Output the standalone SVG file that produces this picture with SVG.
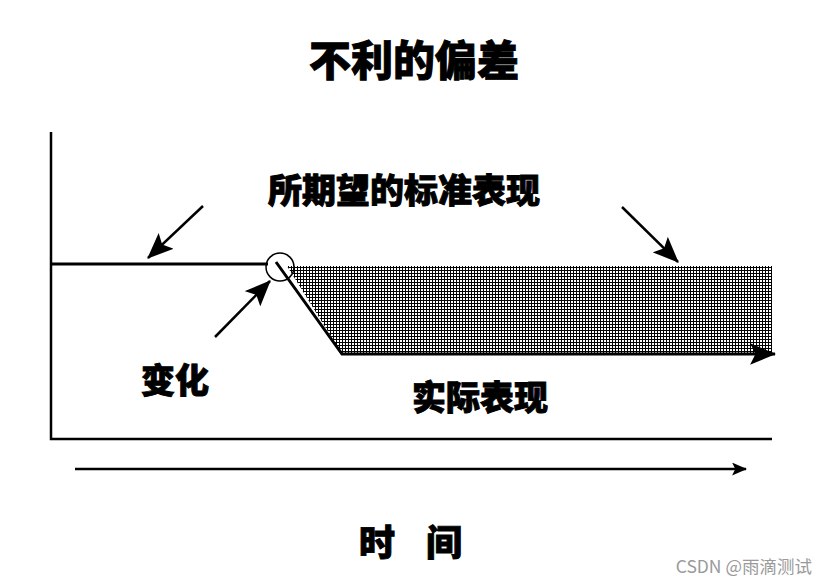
<svg xmlns="http://www.w3.org/2000/svg" width="828" height="586" viewBox="0 0 828 586">
<style>
.t{font-family:"Noto Sans CJK SC","Noto Sans CJK JP",sans-serif;font-weight:900;fill:#000;stroke:#000;stroke-width:0.9}
.ln{stroke:#000;fill:none}
</style>
<defs>
<pattern id="hatch" width="3" height="3" patternUnits="userSpaceOnUse">
<rect width="3" height="3" fill="#fff"/>
<path d="M0 0.5H3M0.5 0V3" stroke="#000" stroke-width="1"/>
</pattern>
<marker id="ah" viewBox="0 0 24 20" refX="23" refY="10" markerWidth="26" markerHeight="22" markerUnits="userSpaceOnUse" orient="auto">
<path d="M0 0L24 10L0 20L5 10Z" fill="#000"/>
</marker>
<marker id="ahs" viewBox="0 0 14 12" refX="13" refY="6" markerWidth="15" markerHeight="13" markerUnits="userSpaceOnUse" orient="auto">
<path d="M0 0L14 6L0 12L3 6Z" fill="#000"/>
</marker>
</defs>
<rect width="828" height="586" fill="#fff"/>

<g id="title"><text class="t" x="414" y="76" font-size="42" text-anchor="middle">不利的偏差</text></g>

<g id="axes">
<path class="ln" d="M51 132V439H772" stroke-width="2.5"/>
</g>

<g id="shaded-gap">
<path d="M287 266H772V354H342Z" fill="url(#hatch)"/>
</g>

<g id="expected-line">
<path class="ln" d="M52 264H268" stroke-width="3"/>
</g>

<g id="change-point">
<circle cx="280" cy="267" r="14" fill="none" stroke="#000" stroke-width="1.5"/>
</g>

<g id="actual-line">
<path class="ln" d="M276 262L342 354H764" stroke-width="3"/>
</g>

<g id="label-expected"><text class="t" x="404" y="203" font-size="34" text-anchor="middle">所期望的标准表现</text></g>
<g id="label-change"><text class="t" x="175" y="393" font-size="34" text-anchor="middle">变化</text></g>
<g id="label-actual"><text class="t" x="480" y="410" font-size="34" text-anchor="middle">实际表现</text></g>
<g id="label-time">
<text class="t" x="377" y="556" font-size="36" text-anchor="middle">时</text>
<text class="t" x="444" y="556" font-size="36" text-anchor="middle">间</text>
</g>

<g id="connectors">
<path class="ln" d="M203 206L148 258" stroke-width="2.5" marker-end="url(#ah)"/>
<path class="ln" d="M215 337L270 281" stroke-width="2.5" marker-end="url(#ah)"/>
<path class="ln" d="M622 207L678 262" stroke-width="2.5" marker-end="url(#ah)"/>
<path class="ln" d="M760 354H775" stroke-width="3" marker-end="url(#ah)"/>
<path class="ln" d="M75 469H746" stroke-width="2.5" marker-end="url(#ahs)"/>
</g>

<g id="watermark"><text x="812" y="573" font-size="17.5" text-anchor="end" fill="#9a9a9a" font-family="'Noto Sans CJK SC',sans-serif">CSDN @雨滴测试</text></g>
</svg>
